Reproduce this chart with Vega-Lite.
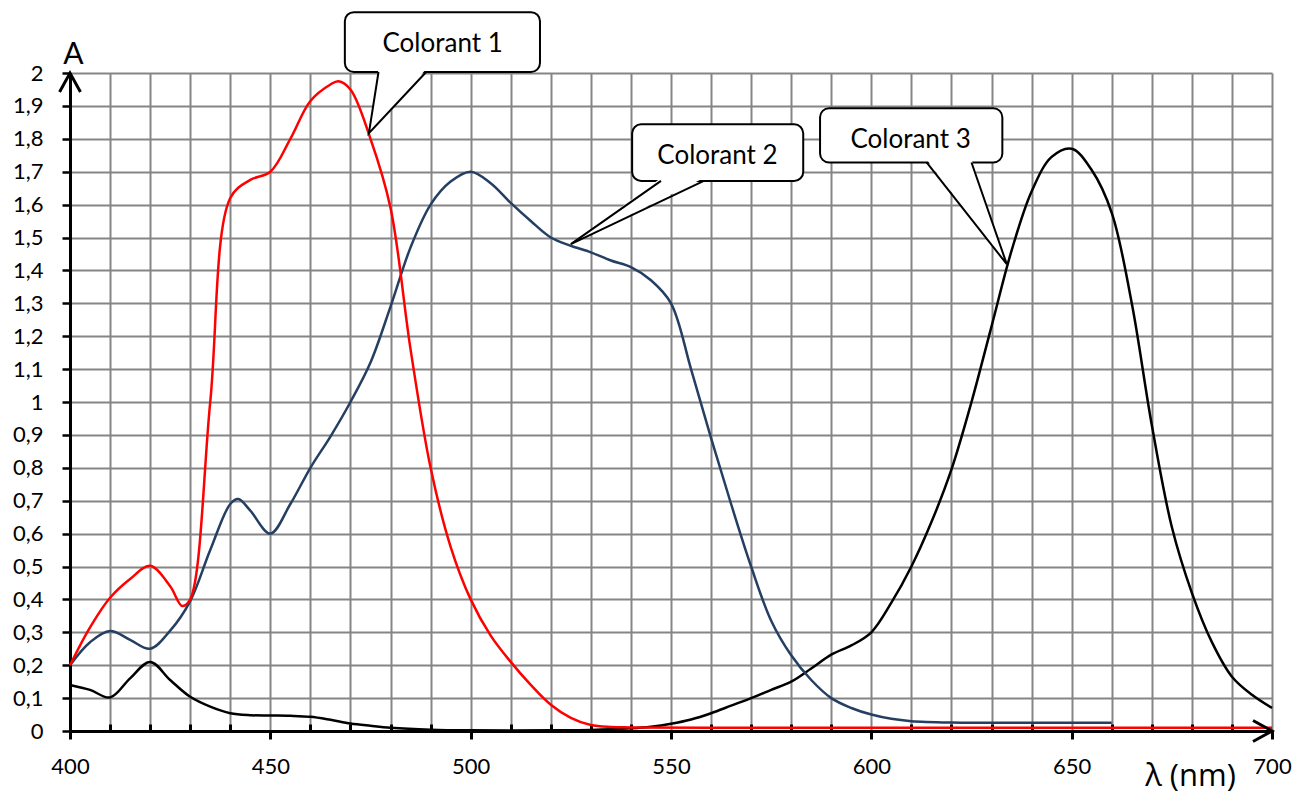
{
  "$schema": "https://vega.github.io/schema/vega-lite/v6.json",
  "width": 1202,
  "height": 658,
  "autosize": "none",
  "padding": {"left": 70, "top": 73, "right": 22, "bottom": 62},
  "background": "white",
  "config": {"view": {"stroke": null}, "font": "Lato"},
  "datasets": {
    "spectra": [
      {"colorant": "Colorant 3", "nm": 400, "A": 0.14},
      {"colorant": "Colorant 3", "nm": 405, "A": 0.125},
      {"colorant": "Colorant 3", "nm": 410, "A": 0.102},
      {"colorant": "Colorant 3", "nm": 415, "A": 0.16},
      {"colorant": "Colorant 3", "nm": 420, "A": 0.21},
      {"colorant": "Colorant 3", "nm": 425, "A": 0.155},
      {"colorant": "Colorant 3", "nm": 430, "A": 0.104},
      {"colorant": "Colorant 3", "nm": 435, "A": 0.074},
      {"colorant": "Colorant 3", "nm": 440, "A": 0.054},
      {"colorant": "Colorant 3", "nm": 445, "A": 0.048},
      {"colorant": "Colorant 3", "nm": 450, "A": 0.047},
      {"colorant": "Colorant 3", "nm": 455, "A": 0.046},
      {"colorant": "Colorant 3", "nm": 460, "A": 0.043},
      {"colorant": "Colorant 3", "nm": 465, "A": 0.034},
      {"colorant": "Colorant 3", "nm": 470, "A": 0.023},
      {"colorant": "Colorant 3", "nm": 475, "A": 0.016},
      {"colorant": "Colorant 3", "nm": 480, "A": 0.01},
      {"colorant": "Colorant 3", "nm": 490, "A": 0.004},
      {"colorant": "Colorant 3", "nm": 500, "A": 0.002},
      {"colorant": "Colorant 3", "nm": 520, "A": 0.002},
      {"colorant": "Colorant 3", "nm": 530, "A": 0.003},
      {"colorant": "Colorant 3", "nm": 540, "A": 0.008},
      {"colorant": "Colorant 3", "nm": 545, "A": 0.013},
      {"colorant": "Colorant 3", "nm": 550, "A": 0.022},
      {"colorant": "Colorant 3", "nm": 555, "A": 0.035},
      {"colorant": "Colorant 3", "nm": 560, "A": 0.054},
      {"colorant": "Colorant 3", "nm": 565, "A": 0.077},
      {"colorant": "Colorant 3", "nm": 570, "A": 0.1},
      {"colorant": "Colorant 3", "nm": 575, "A": 0.125},
      {"colorant": "Colorant 3", "nm": 580, "A": 0.15},
      {"colorant": "Colorant 3", "nm": 585, "A": 0.19},
      {"colorant": "Colorant 3", "nm": 590, "A": 0.232},
      {"colorant": "Colorant 3", "nm": 595, "A": 0.26},
      {"colorant": "Colorant 3", "nm": 600, "A": 0.3},
      {"colorant": "Colorant 3", "nm": 605, "A": 0.39},
      {"colorant": "Colorant 3", "nm": 610, "A": 0.5},
      {"colorant": "Colorant 3", "nm": 615, "A": 0.635},
      {"colorant": "Colorant 3", "nm": 620, "A": 0.795},
      {"colorant": "Colorant 3", "nm": 625, "A": 1.0},
      {"colorant": "Colorant 3", "nm": 630, "A": 1.23},
      {"colorant": "Colorant 3", "nm": 635, "A": 1.46},
      {"colorant": "Colorant 3", "nm": 640, "A": 1.64},
      {"colorant": "Colorant 3", "nm": 645, "A": 1.745},
      {"colorant": "Colorant 3", "nm": 650, "A": 1.77},
      {"colorant": "Colorant 3", "nm": 655, "A": 1.705},
      {"colorant": "Colorant 3", "nm": 660, "A": 1.575},
      {"colorant": "Colorant 3", "nm": 665, "A": 1.3},
      {"colorant": "Colorant 3", "nm": 670, "A": 0.93},
      {"colorant": "Colorant 3", "nm": 675, "A": 0.62},
      {"colorant": "Colorant 3", "nm": 680, "A": 0.42},
      {"colorant": "Colorant 3", "nm": 685, "A": 0.27},
      {"colorant": "Colorant 3", "nm": 690, "A": 0.165},
      {"colorant": "Colorant 3", "nm": 695, "A": 0.11},
      {"colorant": "Colorant 3", "nm": 700, "A": 0.07},
      {"colorant": "Colorant 2", "nm": 400, "A": 0.2},
      {"colorant": "Colorant 2", "nm": 405, "A": 0.27},
      {"colorant": "Colorant 2", "nm": 410, "A": 0.304},
      {"colorant": "Colorant 2", "nm": 415, "A": 0.277},
      {"colorant": "Colorant 2", "nm": 420, "A": 0.25},
      {"colorant": "Colorant 2", "nm": 425, "A": 0.305},
      {"colorant": "Colorant 2", "nm": 430, "A": 0.395},
      {"colorant": "Colorant 2", "nm": 435, "A": 0.55},
      {"colorant": "Colorant 2", "nm": 440, "A": 0.69},
      {"colorant": "Colorant 2", "nm": 442, "A": 0.705},
      {"colorant": "Colorant 2", "nm": 445, "A": 0.67},
      {"colorant": "Colorant 2", "nm": 450, "A": 0.6},
      {"colorant": "Colorant 2", "nm": 455, "A": 0.69},
      {"colorant": "Colorant 2", "nm": 460, "A": 0.8},
      {"colorant": "Colorant 2", "nm": 465, "A": 0.895},
      {"colorant": "Colorant 2", "nm": 470, "A": 1.0},
      {"colorant": "Colorant 2", "nm": 475, "A": 1.12},
      {"colorant": "Colorant 2", "nm": 480, "A": 1.29},
      {"colorant": "Colorant 2", "nm": 485, "A": 1.47},
      {"colorant": "Colorant 2", "nm": 490, "A": 1.6},
      {"colorant": "Colorant 2", "nm": 495, "A": 1.67},
      {"colorant": "Colorant 2", "nm": 500, "A": 1.7},
      {"colorant": "Colorant 2", "nm": 505, "A": 1.665},
      {"colorant": "Colorant 2", "nm": 510, "A": 1.605},
      {"colorant": "Colorant 2", "nm": 515, "A": 1.55},
      {"colorant": "Colorant 2", "nm": 520, "A": 1.5},
      {"colorant": "Colorant 2", "nm": 525, "A": 1.475},
      {"colorant": "Colorant 2", "nm": 530, "A": 1.455},
      {"colorant": "Colorant 2", "nm": 535, "A": 1.43},
      {"colorant": "Colorant 2", "nm": 540, "A": 1.41},
      {"colorant": "Colorant 2", "nm": 545, "A": 1.37},
      {"colorant": "Colorant 2", "nm": 550, "A": 1.3},
      {"colorant": "Colorant 2", "nm": 555, "A": 1.1},
      {"colorant": "Colorant 2", "nm": 560, "A": 0.89},
      {"colorant": "Colorant 2", "nm": 565, "A": 0.69},
      {"colorant": "Colorant 2", "nm": 570, "A": 0.5},
      {"colorant": "Colorant 2", "nm": 575, "A": 0.335},
      {"colorant": "Colorant 2", "nm": 580, "A": 0.23},
      {"colorant": "Colorant 2", "nm": 585, "A": 0.155},
      {"colorant": "Colorant 2", "nm": 590, "A": 0.1},
      {"colorant": "Colorant 2", "nm": 595, "A": 0.07},
      {"colorant": "Colorant 2", "nm": 600, "A": 0.05},
      {"colorant": "Colorant 2", "nm": 605, "A": 0.037},
      {"colorant": "Colorant 2", "nm": 610, "A": 0.03},
      {"colorant": "Colorant 2", "nm": 620, "A": 0.026},
      {"colorant": "Colorant 2", "nm": 640, "A": 0.025},
      {"colorant": "Colorant 2", "nm": 660, "A": 0.025},
      {"colorant": "Colorant 1", "nm": 400, "A": 0.2},
      {"colorant": "Colorant 1", "nm": 405, "A": 0.315},
      {"colorant": "Colorant 1", "nm": 410, "A": 0.405},
      {"colorant": "Colorant 1", "nm": 415, "A": 0.462},
      {"colorant": "Colorant 1", "nm": 420, "A": 0.502},
      {"colorant": "Colorant 1", "nm": 425, "A": 0.44},
      {"colorant": "Colorant 1", "nm": 428, "A": 0.38},
      {"colorant": "Colorant 1", "nm": 430, "A": 0.4},
      {"colorant": "Colorant 1", "nm": 435, "A": 1.0},
      {"colorant": "Colorant 1", "nm": 440, "A": 1.62},
      {"colorant": "Colorant 1", "nm": 445, "A": 1.675},
      {"colorant": "Colorant 1", "nm": 450, "A": 1.7},
      {"colorant": "Colorant 1", "nm": 455, "A": 1.8},
      {"colorant": "Colorant 1", "nm": 460, "A": 1.915},
      {"colorant": "Colorant 1", "nm": 465, "A": 1.965},
      {"colorant": "Colorant 1", "nm": 467, "A": 1.975},
      {"colorant": "Colorant 1", "nm": 470, "A": 1.95},
      {"colorant": "Colorant 1", "nm": 475, "A": 1.8},
      {"colorant": "Colorant 1", "nm": 480, "A": 1.59},
      {"colorant": "Colorant 1", "nm": 485, "A": 1.16},
      {"colorant": "Colorant 1", "nm": 490, "A": 0.8},
      {"colorant": "Colorant 1", "nm": 495, "A": 0.56},
      {"colorant": "Colorant 1", "nm": 500, "A": 0.4},
      {"colorant": "Colorant 1", "nm": 505, "A": 0.29},
      {"colorant": "Colorant 1", "nm": 510, "A": 0.21},
      {"colorant": "Colorant 1", "nm": 515, "A": 0.14},
      {"colorant": "Colorant 1", "nm": 520, "A": 0.08},
      {"colorant": "Colorant 1", "nm": 525, "A": 0.04},
      {"colorant": "Colorant 1", "nm": 530, "A": 0.018},
      {"colorant": "Colorant 1", "nm": 535, "A": 0.012},
      {"colorant": "Colorant 1", "nm": 540, "A": 0.011},
      {"colorant": "Colorant 1", "nm": 560, "A": 0.01},
      {"colorant": "Colorant 1", "nm": 600, "A": 0.01},
      {"colorant": "Colorant 1", "nm": 650, "A": 0.01},
      {"colorant": "Colorant 1", "nm": 700, "A": 0.01}
    ],
    "calloutBoxes": [
      {"label": "Colorant 1", "nm": 468.6, "nm2": 517.3, "A": 2.003, "A2": 2.185},
      {"label": "Colorant 2", "nm": 540.3, "nm2": 583.0, "A": 1.672, "A2": 1.844},
      {"label": "Colorant 3", "nm": 587.2, "nm2": 632.7, "A": 1.728, "A2": 1.893}
    ],
    "calloutText": [
      {"label": "Colorant 1", "nm": 493.0, "A": 2.063},
      {"label": "Colorant 2", "nm": 561.6, "A": 1.722},
      {"label": "Colorant 3", "nm": 609.8, "A": 1.773}
    ],
    "pointerFill": [
      {"label": "Colorant 1", "A": 2.012, "nm": 477.0, "nm2": 488.9},
      {"label": "Colorant 1", "A": 1.817, "nm": 474.6, "nm2": 474.6},
      {"label": "Colorant 2", "A": 1.681, "nm": 547.5, "nm2": 558.2},
      {"label": "Colorant 2", "A": 1.48, "nm": 525.0, "nm2": 525.0},
      {"label": "Colorant 3", "A": 1.737, "nm": 613.8, "nm2": 625.0},
      {"label": "Colorant 3", "A": 1.419, "nm": 633.8, "nm2": 633.8}
    ],
    "pointerEdge": [
      {"label": "Colorant 1", "seq": 1, "nm": 477.0, "A": 2.003},
      {"label": "Colorant 1", "seq": 2, "nm": 474.6, "A": 1.817},
      {"label": "Colorant 1", "seq": 3, "nm": 488.9, "A": 2.003},
      {"label": "Colorant 2", "seq": 1, "nm": 547.5, "A": 1.672},
      {"label": "Colorant 2", "seq": 2, "nm": 525.0, "A": 1.48},
      {"label": "Colorant 2", "seq": 3, "nm": 558.2, "A": 1.672},
      {"label": "Colorant 3", "seq": 1, "nm": 613.8, "A": 1.728},
      {"label": "Colorant 3", "seq": 2, "nm": 633.8, "A": 1.419},
      {"label": "Colorant 3", "seq": 3, "nm": 625.0, "A": 1.728}
    ],
    "arrowX": [{"nm": 700, "A": 0}],
    "arrowY": [{"nm": 400, "A": 2}]
  },
  "encoding": {
    "x": {
      "field": "nm", "type": "quantitative",
      "scale": {"domain": [400, 700], "nice": false, "zero": false},
      "axis": {
        "values": [400,410,420,430,440,450,460,470,480,490,500,510,520,530,540,550,560,570,580,590,600,610,620,630,640,650,660,670,680,690,700],
        "title": "λ (nm)",
        "grid": true, "gridColor": "#858585", "gridWidth": 2,
        "gridOpacity": {"condition": {"test": "datum.value == 400", "value": 0}, "value": 1},
        "domainColor": "black", "domainWidth": 3,
        "tickColor": "black", "tickWidth": 3,
        "tickSize": {"condition": {"test": "datum.value % 50 == 0", "value": 8}, "value": -7},
        "labelExpr": "datum.value % 50 == 0 ? datum.label : ''",
        "labelFont": "Lato", "labelFontSize": 22, "labelColor": "black",
        "labelPadding": 17, "labelFlush": false, "labelOverlap": false,
        "titleFont": "Open Sans", "titleFontSize": 31, "titleFontWeight": "normal", "titleColor": "black",
        "titleX": 1120, "titleY": 54, "titleAlign": "center", "titleBaseline": "alphabetic"
      }
    },
    "y": {
      "field": "A", "type": "quantitative",
      "scale": {"domain": [0, 2], "nice": false},
      "axis": {
        "values": [0,0.1,0.2,0.3,0.4,0.5,0.6,0.7,0.8,0.9,1,1.1,1.2,1.3,1.4,1.5,1.6,1.7,1.8,1.9,2],
        "title": "A",
        "grid": true, "gridColor": "#858585", "gridWidth": 2,
        "gridOpacity": {"condition": {"test": "datum.value == 0", "value": 0}, "value": 1},
        "domainColor": "black", "domainWidth": 3,
        "tickColor": "black", "tickWidth": 2.5, "tickSize": 8,
        "labelExpr": "replace(format(datum.value, '~g'), '.', ',')",
        "labelFont": "Lato", "labelFontSize": 22, "labelColor": "black",
        "labelPadding": 19, "labelOverlap": false, "labelFlush": false,
        "titleFont": "Lato", "titleFontSize": 30, "titleFontWeight": "normal", "titleColor": "black",
        "titleAngle": 0, "titleX": 3, "titleY": -10, "titleAlign": "center", "titleBaseline": "alphabetic"
      }
    }
  },
  "layer": [
    {
      "data": {"name": "spectra"},
      "mark": {"type": "line", "interpolate": "catmull-rom", "strokeWidth": 2.5},
      "encoding": {
        "color": {
          "field": "colorant", "type": "nominal",
          "scale": {"domain": ["Colorant 3", "Colorant 2", "Colorant 1"], "range": ["#000000", "#253F63", "#FF0000"]},
          "legend": null
        }
      }
    },
    {
      "data": {"name": "calloutBoxes"},
      "mark": {"type": "rect", "fill": "white", "stroke": "black", "strokeWidth": 2, "cornerRadius": 9},
      "encoding": {
        "x2": {"field": "nm2"},
        "y2": {"field": "A2"}
      }
    },
    {
      "data": {"name": "pointerFill"},
      "mark": {"type": "area", "orient": "horizontal", "fill": "white", "interpolate": "linear"},
      "encoding": {
        "x2": {"field": "nm2"},
        "detail": {"field": "label", "type": "nominal"}
      }
    },
    {
      "data": {"name": "pointerEdge"},
      "mark": {"type": "line", "color": "black", "strokeWidth": 2, "interpolate": "linear"},
      "encoding": {
        "detail": {"field": "label", "type": "nominal"},
        "order": {"field": "seq", "type": "quantitative"}
      }
    },
    {
      "data": {"name": "calloutText"},
      "mark": {"type": "text", "font": "Lato", "fontSize": 26, "color": "black", "align": "center", "baseline": "alphabetic"},
      "encoding": {
        "text": {"field": "label", "type": "nominal"}
      }
    },
    {
      "data": {"name": "arrowX"},
      "mark": {"type": "point", "shape": "M -1 -0.55 L 0 0 L -1 0.55", "size": 1444, "filled": false, "color": "black", "strokeWidth": 3, "opacity": 1}
    },
    {
      "data": {"name": "arrowY"},
      "mark": {"type": "point", "shape": "M -0.55 1 L 0 0 L 0.55 1", "size": 1444, "filled": false, "color": "black", "strokeWidth": 3, "opacity": 1}
    }
  ]
}
